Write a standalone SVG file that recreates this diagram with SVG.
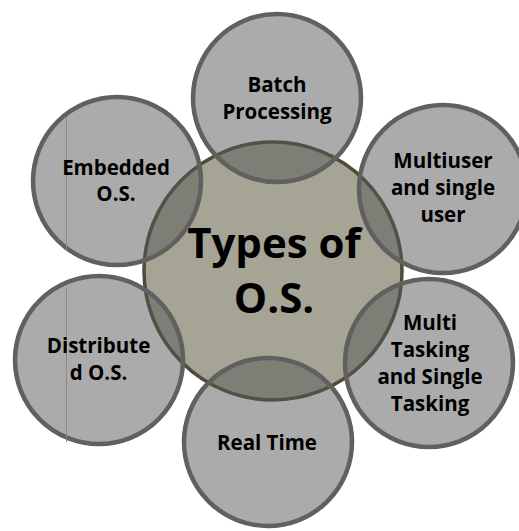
<svg xmlns="http://www.w3.org/2000/svg" width="519" height="531" viewBox="0 0 519 531">
<style>
.center{fill:#a5a495;stroke:#4f4b36;stroke-width:3.5}
.outer{fill:#575757;fill-opacity:0.5;stroke:#606060;stroke-width:4.5}
.lbl{font-family:"Open Sans",Lato,"Liberation Sans",sans-serif;font-weight:bold;font-size:20.5px;fill:#000;text-anchor:middle}
.big{font-family:"Open Sans",Lato,"Liberation Sans",sans-serif;font-weight:bold;font-size:42px;fill:#000;text-anchor:middle}
.art{stroke:#8a8a8a;stroke-width:1}
</style>
<rect width="519" height="531" fill="#ffffff"/>
<g id="center">
<circle class="center" cx="273" cy="271" r="129"/>
<text class="big" x="274" y="258">Types of</text>
<text class="big" x="274" y="313">O.S.</text>
</g>
<g id="batch">
<circle class="outer" cx="277" cy="98" r="84"/>
<text class="lbl" x="277" y="92">Batch</text>
<text class="lbl" x="277" y="119">Processing</text>
</g>
<g id="multiuser">
<circle class="outer" cx="443" cy="189" r="84"/>
<text class="lbl" x="443" y="168">Multiuser</text>
<text class="lbl" x="443" y="195">and single</text>
<text class="lbl" x="443" y="222">user</text>
</g>
<g id="multitasking">
<circle class="outer" cx="429" cy="363" r="84"/>
<text class="lbl" x="430" y="330">Multi</text>
<text class="lbl" x="430" y="357">Tasking</text>
<text class="lbl" x="430" y="384">and Single</text>
<text class="lbl" x="430" y="411">Tasking</text>
</g>
<g id="realtime">
<circle class="outer" cx="268" cy="442" r="84"/>
<text class="lbl" x="267" y="450">Real Time</text>
</g>
<g id="distributed">
<circle class="outer" cx="99" cy="360" r="84"/>
<line class="art" x1="66.5" y1="288" x2="66.5" y2="442"/>
<text class="lbl" x="98.5" y="353">Distribute</text>
<text class="lbl" x="98.5" y="380">d O.S.</text>
</g>
<g id="embedded">
<circle class="outer" cx="117" cy="181" r="84"/>
<line class="art" x1="66.5" y1="117" x2="66.5" y2="250"/>
<text class="lbl" x="116" y="175">Embedded</text>
<text class="lbl" x="116" y="201">O.S.</text>
</g>
</svg>
